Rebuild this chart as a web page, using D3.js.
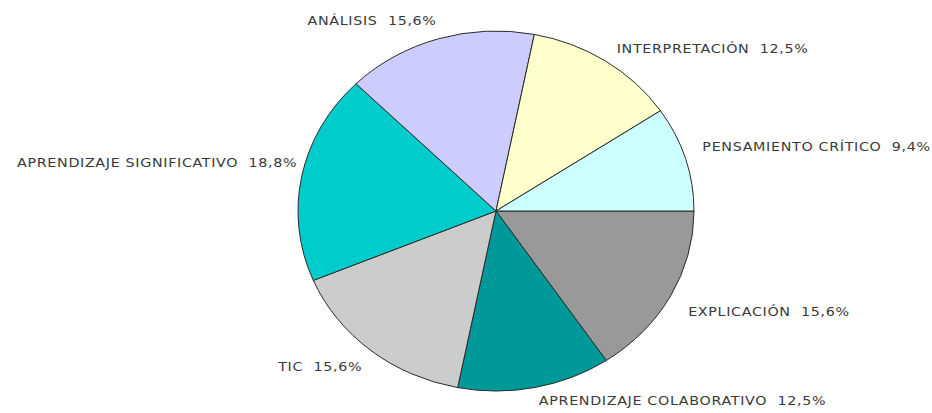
<!DOCTYPE html>
<meta charset="utf-8">
<style>
  body { margin: 0; background: #fff; }
  text { font-family: "DejaVu Sans", sans-serif; font-size: 13px; letter-spacing: 0.6px; fill: #3a3a3a; white-space: pre; }
</style>
<svg width="932" height="413"></svg>
<script src="https://cdn.jsdelivr.net/npm/d3@7"></script>
<script>
// slices, clockwise from 3 o'clock
var categories = ["EXPLICACIÓN", "APRENDIZAJE COLABORATIVO", "TIC", "APRENDIZAJE SIGNIFICATIVO",
                  "ANÁLISIS", "INTERPRETACIÓN", "PENSAMIENTO CRÍTICO"];
var percents = [15.6, 12.5, 15.6, 18.8, 15.6, 12.5, 9.4];
var sliceColors = ["#999999", "#009999", "#cccccc", "#00cccc", "#ccccff", "#ffffcc", "#ccffff"];

var data = categories.map(function(c, i) { return {name: c, value: percents[i]}; });

var svg = d3.select("svg"),
    cx = 496, cy = 211,
    rx = 198, ry = 180,
    stretch = rx / ry;

// small manual nudges, the original labels were not all placed on the same ring
var labelShift = [[0, 7], [0, -5], [4, 2], [15, -10], [4, -1], [0, 2], [-2, -7]];

var pie = d3.pie()
    .sort(null)
    .value(function(d) { return d.value; })
    .startAngle(Math.PI / 2)
    .endAngle(Math.PI / 2 + 2 * Math.PI);

var arcs = pie(data);

var arc = d3.arc().innerRadius(0).outerRadius(ry);

// chart is slightly stretched horizontally, like the original
var g = svg.append("g")
    .attr("transform", "translate(" + cx + "," + cy + ") scale(" + stretch + ",1)");

g.selectAll("path")
    .data(arcs)
    .enter().append("path")
    .attr("d", arc)
    .attr("fill", function(d, i) { return sliceColors[i]; })
    .attr("stroke", "#2a2a2a")
    .attr("stroke-width", 1)
    .attr("vector-effect", "non-scaling-stroke");

// labels just outside the rim
var fmt = function(v) { return v.toFixed(1).replace(".", ","); };

svg.selectAll("g.lbl")
    .data(arcs)
    .enter().append("g")
    .attr("class", "lbl")
    .attr("transform", function(d, i) {
        var a = (d.startAngle + d.endAngle) / 2; // 0 at top, clockwise
        var k = 1.1;
        var x = cx + rx * k * Math.sin(a) + labelShift[i][0],
            y = cy - ry * k * Math.cos(a) + labelShift[i][1];
        return "translate(" + x + "," + y + ") scale(" + stretch + ",1)";
    })
    .append("text")
    .attr("dy", "0.35em")
    .attr("text-anchor", function(d) {
        return Math.sin((d.startAngle + d.endAngle) / 2) >= 0 ? "start" : "end";
    })
    .text(function(d) { return d.data.name + "  " + fmt(d.data.value) + "%"; });
</script>
